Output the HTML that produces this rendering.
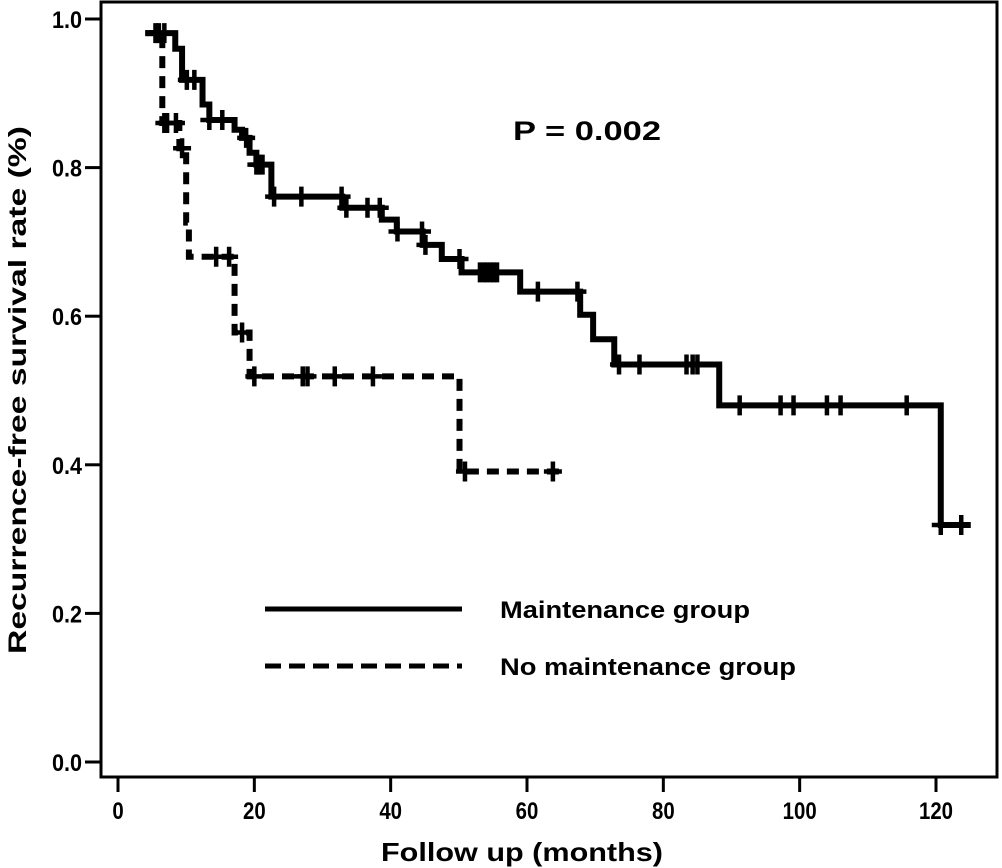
<!DOCTYPE html>
<html><head><meta charset="utf-8"><style>
html,body{margin:0;padding:0;background:#fff;}
svg{display:block;font-family:"Liberation Sans",Arial,sans-serif;font-weight:bold;}
</style></head><body>
<svg id="chart" width="1002" height="868" viewBox="0 0 1002 868">
<rect x="0" y="0" width="1002" height="868" fill="#fff"/>
<rect x="101" y="2" width="896" height="775" fill="none" stroke="#000" stroke-width="3"/>
<g id="axes"></g>
<g id="series"></g>
<text x="513" y="140" font-size="27" textLength="148" lengthAdjust="spacingAndGlyphs">P = 0.002</text>
<g>
<line x1="265" y1="609" x2="462" y2="609" stroke="#000" stroke-width="5"/>
<text x="500" y="618" font-size="24" textLength="250" lengthAdjust="spacingAndGlyphs">Maintenance group</text>
<line x1="265" y1="666" x2="462" y2="666" stroke="#000" stroke-width="5" stroke-dasharray="16 8"/>
<text x="500" y="675" font-size="24" textLength="296" lengthAdjust="spacingAndGlyphs">No maintenance group</text>
</g>
<text x="522" y="861" font-size="26" text-anchor="middle" textLength="282" lengthAdjust="spacingAndGlyphs">Follow up (months)</text>
<text transform="translate(26,390) rotate(-90)" font-size="25" text-anchor="middle" textLength="528" lengthAdjust="spacingAndGlyphs">Recurrence-free survival rate  (%)</text>
</svg>
<script>
const xTicks = [0, 20, 40, 60, 80, 100, 120];
const yTicks = [0.0, 0.2, 0.4, 0.6, 0.8, 1.0];
const yTickLabels = ["0.0", "0.2", "0.4", "0.6", "0.8", "1.0"];

const maintStart = 4.0;
const maintStartValue = 0.981;
const maintDropTimes = [8.4, 9.4, 12.4, 13.4, 17.1, 18.2, 19.3, 20.3, 22.5, 32.9, 38.7, 40.9, 44.7, 47.5, 50.4, 59.0, 67.8, 69.7, 72.8, 88.2, 120.7];
const maintDropValues = [0.96, 0.918, 0.885, 0.864, 0.851, 0.84, 0.82, 0.804, 0.761, 0.746, 0.73, 0.714, 0.696, 0.677, 0.659, 0.633, 0.602, 0.569, 0.535, 0.48, 0.319];
const maintEnd = 125.1;
const maintCensors = [6.0, 6.8, 10.1, 11.2, 13.4, 15.3, 18.8, 20.3, 20.7, 21.2, 22.9, 26.9, 32.8, 33.5, 36.6, 38.4, 41.0, 44.6, 45.1, 50.1, 53.1, 53.7, 54.1, 54.7, 55.1, 55.6, 61.6, 67.4, 73.5, 76.5, 83.4, 84.3, 85.0, 91.2, 97.2, 99.1, 104.0, 106.0, 115.7, 120.7, 123.7];

const noMaintStart = 4.0;
const noMaintStartValue = 0.981;
const noMaintDropTimes = [6.5, 9.0, 10.0, 10.4, 17.1, 19.3, 50.1];
const noMaintDropValues = [0.86, 0.826, 0.726, 0.68, 0.578, 0.519, 0.391];
const noMaintEnd = 65.1;
const noMaintCensors = [5.5, 6.8, 7.2, 8.5, 9.4, 14.4, 16.3, 18.2, 20.0, 27.1, 27.8, 31.8, 37.4, 50.9, 63.8];

const NS = "http://www.w3.org/2000/svg";
function xs(m){ return 118 + m * (936 - 118) / 120; }
function ys(v){ return 762 - v * (762 - 19); }
function mk(tag, attrs, parent){
  const e = document.createElementNS(NS, tag);
  for (const k in attrs) e.setAttribute(k, attrs[k]);
  parent.appendChild(e);
  return e;
}
const axes = document.getElementById('axes');
xTicks.forEach(t => {
  const l = mk('line', {x1: xs(t), x2: xs(t), y1: 777, y2: 792, stroke: '#000', 'stroke-width': 3}, axes);
  
  
  const tx = mk('text', {x: xs(t), y: 819, 'font-size': 24, 'text-anchor': 'middle', transform: 'translate(' + xs(t) + ',0) scale(0.85,1) translate(' + (-xs(t)) + ',0)'}, axes);
  tx.textContent = String(t);
  
  
});
yTicks.forEach((t, i) => {
  const l = mk('line', {x1: 85, x2: 101, y1: ys(t), y2: ys(t), stroke: '#000', 'stroke-width': 3}, axes);
  
  
  const tx = mk('text', {x: 82, y: ys(t) + 9, 'font-size': 24, 'text-anchor': 'end', transform: 'translate(82,0) scale(0.9,1) translate(-82,0)'}, axes);
  tx.textContent = yTickLabels[i];
  
  
});

function valueAt(t, s0, v0, times, vals){
  let v = v0;
  for (let i = 0; i < times.length; i++) if (t >= times[i]) v = vals[i];
  return v;
}
const series = document.getElementById('series');
function drawSeries(name, s0, v0, times, vals, end, censors, dash){
  const g = mk('g', {}, series);
  
  
  let d = 'M' + xs(s0) + ' ' + ys(v0);
  times.forEach((t, i) => {
    d += ' H' + xs(t) + ' V' + ys(vals[i]);
  });
  d += ' H' + xs(end);
  const attrs = {d: d, fill: 'none', stroke: '#000', 'stroke-width': 6, 'stroke-linejoin': 'miter'};
  if (dash) attrs['stroke-dasharray'] = dash;
  const p = mk('path', attrs, g);
  
  
  censors.forEach(c => {
    const cy = ys(valueAt(c, s0, v0, times, vals));
    const cx = xs(c);
    const m = mk('path', {d: 'M' + (cx - 9) + ' ' + cy + ' H' + (cx + 9) + ' M' + cx + ' ' + (cy - 10) + ' V' + (cy + 10), stroke: '#000', 'stroke-width': 4.5, fill: 'none'}, g);
    
    
  });
}
drawSeries('maintenance-series', maintStart, maintStartValue, maintDropTimes, maintDropValues, maintEnd, maintCensors, null);
drawSeries('no-maintenance-series', noMaintStart, noMaintStartValue, noMaintDropTimes, noMaintDropValues, noMaintEnd, noMaintCensors, '12 8');
</script>
</body></html>
